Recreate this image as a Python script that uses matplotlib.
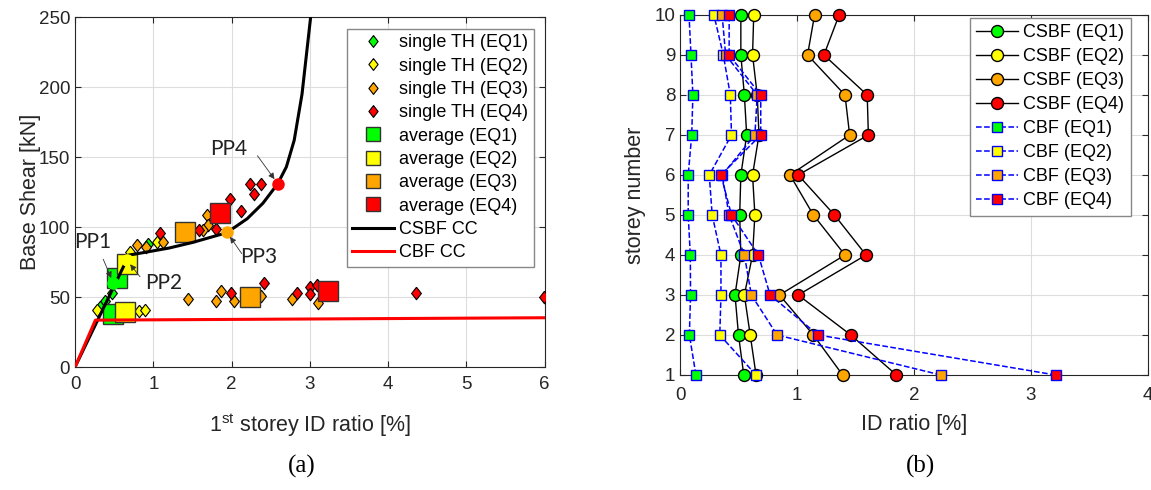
import matplotlib.pyplot as plt
from matplotlib.lines import Line2D

plt.rcParams['font.family'] = ['Liberation Sans', 'DejaVu Sans']
plt.rcParams['mathtext.fontset'] = 'custom'
plt.rcParams['mathtext.rm'] = 'Liberation Sans'

# ---- panel (a): base shear vs 1st storey ID ratio ----
colors = ['#00ff00', '#ffff00', '#ffa500', '#ff0000']
eq_names = ['EQ1', 'EQ2', 'EQ3', 'EQ4']

single_x = [
    [0.93, 0.38, 0.32, 0.47, 0.60],
    [1.05, 0.70, 0.82, 0.90, 0.28, 0.62],
    [0.79, 0.91, 1.13, 1.68, 1.70, 1.64, 1.44, 1.80, 1.87, 2.03, 2.37, 2.77, 3.10],
    [1.09, 1.58, 1.80, 1.98, 2.12, 2.23, 2.38, 2.29, 1.99, 2.41, 2.83, 3.00, 3.00, 3.09, 4.35, 5.99],
]
single_y = [
    [88, 47, 43, 53, 66],
    [89.5, 82, 40, 41, 41, 72],
    [87, 85.5, 89.5, 108.6, 101.4, 98, 48.4, 47.4, 54.5, 47.4, 50.7, 48.4, 45.5],
    [95.5, 98, 98.6, 119.8, 111.7, 130.5, 130.7, 123.3, 53, 60.2, 53, 57, 52, 58.4, 53, 50],
]

avg_x = [[0.54, 0.49], [0.66, 0.64], [1.40, 2.24], [1.85, 3.23]]
avg_y = [[63.4, 38], [73.6, 39.5], [96.3, 49.8], [110, 54.3]]

csbf_cc_x = [0, 0.69, 0.9, 1.2, 1.5, 1.94, 2.2, 2.4, 2.59, 2.7, 2.8, 2.9, 3.01]
csbf_cc_y = [0, 80, 82, 85, 89, 96, 106, 117, 131, 143, 162, 195, 250]
cbf_cc_x = [0, 0.26, 6]
cbf_cc_y = [0, 33.5, 35.2]

pp_labels = ['PP1', 'PP2', 'PP3', 'PP4']
pp_x = [0.49, 0.66, 1.94, 2.59]
pp_y = [60, 76.5, 96.3, 131]
pp_text_x = [0.23, 1.13, 2.34, 1.96]
pp_text_y = [89.5, 60, 78.6, 156]
pp_arrow_x = [0.36, 0.83, 2.13, 2.33]
pp_arrow_y = [77, 64.5, 81, 151]

# ---- panel (b): ID ratio per storey ----
storeys = [1, 2, 3, 4, 5, 6, 7, 8, 9, 10]
csbf_id = [
    [0.545, 0.50, 0.47, 0.52, 0.51, 0.52, 0.57, 0.55, 0.52, 0.52],
    [0.65, 0.60, 0.55, 0.62, 0.64, 0.62, 0.675, 0.66, 0.62, 0.63],
    [1.39, 1.14, 0.85, 1.41, 1.14, 0.94, 1.45, 1.41, 1.09, 1.15],
    [1.85, 1.46, 1.01, 1.59, 1.32, 1.01, 1.61, 1.60, 1.23, 1.36],
]
cbf_id = [
    [0.136, 0.08, 0.09, 0.088, 0.07, 0.07, 0.10, 0.11, 0.094, 0.077],
    [0.65, 0.34, 0.35, 0.35, 0.275, 0.25, 0.44, 0.43, 0.37, 0.29],
    [2.23, 0.83, 0.61, 0.55, 0.42, 0.36, 0.64, 0.66, 0.39, 0.36],
    [3.21, 1.18, 0.77, 0.67, 0.44, 0.35, 0.69, 0.69, 0.42, 0.42],
]

diamond = [(0, 1), (0.78, 0), (0, -1), (-0.78, 0), (0, 1)]

fig = plt.figure(figsize=(11.51, 4.9), dpi=100)
ax1 = fig.add_axes([0.0652, 0.251, 0.408, 0.714])
ax2 = fig.add_axes([0.5908, 0.2347, 0.4066, 0.7347])

for ax in (ax1, ax2):
    ax.grid(True, color='#dddddd', lw=0.8)
    ax.set_axisbelow(True)
    ax.tick_params(direction='in', top=True, right=True, labelsize=13.5,
                   color='#262626', labelcolor='#262626', length=4)
    for s in ax.spines.values():
        s.set_color('#262626')
ax1.tick_params(axis='x', pad=6.5)
ax2.tick_params(axis='x', pad=9)

handles = []
for i in range(4):
    ax1.plot(single_x[i], single_y[i], marker=diamond, ls='none', ms=9, mfc=colors[i],
             mec='k', mew=0.8, zorder=3)
    handles.append(Line2D([], [], marker=diamond, ls='none', ms=8.5, mfc=colors[i],
                          mec='k', mew=0.8, label='single TH (%s)' % eq_names[i]))
for i in range(4):
    ax1.plot(avg_x[i], avg_y[i], 's', ls='none', ms=14.5, mfc=colors[i],
             mec='#333333', mew=1.0, zorder=4)
    handles.append(Line2D([], [], marker='s', ls='none', ms=10.5, mfc=colors[i],
                          mec='#333333', mew=1.0, label='average (%s)' % eq_names[i]))
h, = ax1.plot(csbf_cc_x, csbf_cc_y, color='k', lw=2.2, label='CSBF CC', zorder=5)
handles.append(h)
h, = ax1.plot(cbf_cc_x, cbf_cc_y, color='#ff0000', lw=2.2, label='CBF CC', zorder=5)
handles.append(h)

for i in range(4):
    ax1.plot(pp_x[i], pp_y[i], 'o', ms=8, mfc=colors[i], mec=colors[i], zorder=6)
    ax1.text(pp_text_x[i], pp_text_y[i], pp_labels[i], ha='center', va='center',
             fontsize=15, family=['Lato', 'DejaVu Sans'], color='#222222', zorder=7)
    ax1.annotate('', xy=(pp_x[i], pp_y[i]), xytext=(pp_arrow_x[i], pp_arrow_y[i]), zorder=7,
                 arrowprops=dict(arrowstyle='-|>', color='#333333', lw=0.6,
                                 mutation_scale=9, shrinkA=0, shrinkB=4))

ax1.set_xlim(0, 6)
ax1.set_ylim(0, 250)
ax1.set_xticks(range(7))
ax1.set_yticks(range(0, 251, 50))
ax1.set_xlabel(r'1$^{\mathrm{st}}$ storey ID ratio [%]', fontsize=15.5, color='#262626',
               labelpad=13)
ax1.set_ylabel('Base Shear [kN]', fontsize=15.5, color='#262626')
ax1.yaxis.set_label_coords(-0.072, 0.5)
ax1.legend(handles=handles, loc='upper left', bbox_to_anchor=(0.579, 0.966),
           borderaxespad=0, fontsize=13, labelspacing=0.35, handlelength=2.3,
           handletextpad=0.3, borderpad=0.3,
           fancybox=False, edgecolor='#888888', framealpha=1)

for i in range(4):
    ax2.plot(csbf_id[i], storeys, '-o', color='k', lw=1, ms=8.6, mfc=colors[i],
             mec='k', mew=1, label='CSBF (%s)' % eq_names[i], clip_on=False, zorder=3)
for i in range(4):
    ax2.plot(cbf_id[i], storeys, '--s', color='#0000ff', lw=1.1, ms=6.5, mfc=colors[i],
             mec='#0000ff', mew=1, label='CBF (%s)' % eq_names[i], clip_on=False, zorder=4)

ax2.set_xlim(0, 4)
ax2.set_ylim(1, 10)
ax2.set_xticks(range(5))
ax2.set_yticks(storeys)
ax2.set_xlabel('ID ratio [%]', fontsize=15.5, color='#262626', labelpad=7)
ax2.set_ylabel('storey number', fontsize=15.5, color='#262626')
ax2.yaxis.set_label_coords(-0.073, 0.5)
ax2.legend(loc='upper left', bbox_to_anchor=(0.62, 0.992), borderaxespad=0,
           fontsize=13, labelspacing=0.39, handlelength=2.3, handletextpad=0.3,
           borderpad=0.35, fancybox=False, edgecolor='#888888', framealpha=1)

fig.text(0.262, 0.048, '(a)', fontsize=18, family=['Liberation Serif', 'DejaVu Serif'],
         ha='center', va='center')
fig.text(0.80, 0.048, '(b)', fontsize=18, family=['Liberation Serif', 'DejaVu Serif'],
         ha='center', va='center')

fig.savefig('out.png', dpi=100)
